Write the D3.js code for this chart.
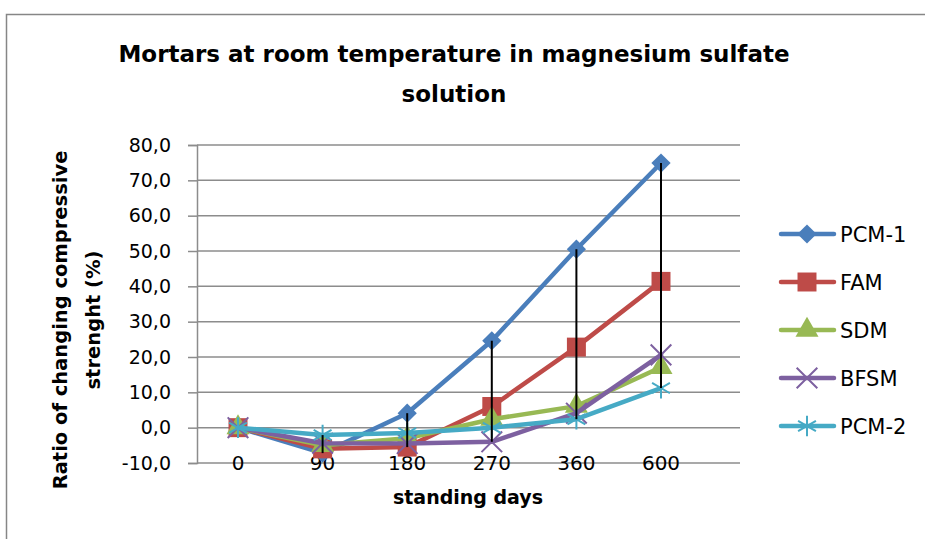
<!DOCTYPE html>
<html>
<head>
<meta charset="utf-8">
<script src="https://cdn.jsdelivr.net/npm/d3@7"></script>
<style>
  body { margin: 0; background: #fff; }
  text { font-family: 'DejaVu Sans', sans-serif; fill: #000; }
</style>
</head>
<body>
<div id="chart"></div>
<script>
// standing days (categories)
const days = ['0', '90', '180', '270', '360', '600']
const yTicks = [-10, 0, 10, 20, 30, 40, 50, 60, 70, 80]

// ratio of changing compressive strength (%)
const pcm1 = [0, -7.2, 4.1, 24.6, 50.5, 74.9]
const fam = [0, -6.0, -5.5, 6.0, 22.8, 41.4]
const sdm = [0, -5.0, -3.0, 2.4, 6.1, 17.1]
const bfsm = [0, -4.4, -4.5, -4.0, 4.1, 20.6]
const pcm2 = [0, -2.1, -1.5, 0.0, 2.4, 11.2]

const seriesNames = ['PCM-1', 'FAM', 'SDM', 'BFSM', 'PCM-2']
const seriesValues = [pcm1, fam, sdm, bfsm, pcm2]
const colors = ['#4a7ebb', '#be4b48', '#98b954', '#7d60a0', '#46aac5']
const markers = ['diamond', 'square', 'triangle', 'x', 'star']

const width = 925
const height = 539
const plot = { left: 197, right: 740, top: 145, bottom: 463 }

const svg = d3.select('#chart')
  .append('svg')
  .attr('width', width)
  .attr('height', height)

// chart frame
svg.append('rect')
  .attr('x', 6.5)
  .attr('y', 14.5)
  .attr('width', 1000)
  .attr('height', 1000)
  .attr('fill', 'none')
  .attr('stroke', '#868686')
  .attr('stroke-width', 1.5)

const x = d3.scalePoint()
  .domain(days)
  .range([238, 661])

const y = d3.scaleLinear()
  .domain([-10, 80])
  .range([plot.bottom, plot.top])

const locale = d3.formatLocale({ decimal: ',', thousands: '.', grouping: [3], currency: ['', ''], minus: '-' })
const fmt = locale.format('.1f')

// gridlines
svg.append('g')
  .selectAll('line')
  .data(yTicks)
  .enter()
  .append('line')
  .attr('x1', plot.left)
  .attr('x2', plot.right)
  .attr('y1', d => y(d))
  .attr('y2', d => y(d))
  .attr('stroke', '#8c8c8c')
  .attr('stroke-width', 1.5)

// y axis
const yAxis = d3.axisLeft(y)
  .tickValues(yTicks)
  .tickFormat(fmt)
  .tickSize(9)
  .tickPadding(17)

const yG = svg.append('g')
  .attr('transform', 'translate(' + plot.left + ',0)')
  .call(yAxis)
yG.select('.domain').attr('stroke', '#8c8c8c').attr('stroke-width', 1.5)
yG.selectAll('.tick line').attr('stroke', '#8c8c8c').attr('stroke-width', 1.5)
yG.selectAll('.tick text')
  .attr('font-size', 19)
  .attr('font-family', 'DejaVu Sans, sans-serif')
  .attr('fill', '#000')

// x labels (Excel puts them on the bottom gridline)
svg.append('g')
  .selectAll('text')
  .data(days)
  .enter()
  .append('text')
  .attr('x', d => x(d))
  .attr('y', plot.bottom + 7)
  .attr('text-anchor', 'middle')
  .attr('font-size', 20)
  .text(d => d)

// series lines and markers
const line = d3.line()
  .x((d, i) => x(days[i]))
  .y(d => y(d))

const symbolFor = {
  diamond: d3.symbol().type(d3.symbolSquare).size(185),
  square: d3.symbol().type(d3.symbolSquare).size(360),
  triangle: d3.symbol().type(d3.symbolTriangle).size(230),
  x: d3.symbol().type(d3.symbolTimes).size(280),
  star: d3.symbol().type(d3.symbolAsterisk).size(300)
}

function drawMarker(g, type, color) {
  const filled = type === 'diamond' || type === 'square' || type === 'triangle'
  g.append('path')
    .attr('d', symbolFor[type]())
    .attr('transform', type === 'diamond' ? 'rotate(45)' : null)
    .attr('fill', filled ? color : 'none')
    .attr('stroke', color)
    .attr('stroke-width', filled ? 0 : 2)
}

seriesValues.forEach((values, s) => {
  const g = svg.append('g')
  g.append('path')
    .datum(values)
    .attr('d', line)
    .attr('fill', 'none')
    .attr('stroke', colors[s])
    .attr('stroke-width', 4.5)
    .attr('stroke-linejoin', 'round')
    .attr('stroke-linecap', 'round')

  values.forEach((v, i) => {
    const m = g.append('g')
      .attr('transform', 'translate(' + x(days[i]) + ',' + y(v) + ')')
    drawMarker(m, markers[s], colors[s])
  })
})

// high-low lines
svg.append('g')
  .selectAll('line')
  .data(days)
  .enter()
  .append('line')
  .attr('x1', d => x(d))
  .attr('x2', d => x(d))
  .attr('y1', (d, i) => y(d3.max(seriesValues, s => s[i])))
  .attr('y2', (d, i) => y(d3.min(seriesValues, s => s[i])))
  .attr('stroke', '#000')
  .attr('stroke-width', 2)

// legend
const legend = svg.append('g')
seriesNames.forEach((name, s) => {
  const ly = 234 + s * 48
  legend.append('line')
    .attr('x1', 781)
    .attr('x2', 834)
    .attr('y1', ly)
    .attr('y2', ly)
    .attr('stroke', colors[s])
    .attr('stroke-width', 4.5)
    .attr('stroke-linecap', 'round')
  const m = legend.append('g')
    .attr('transform', 'translate(807,' + ly + ')')
  drawMarker(m, markers[s], colors[s])
  legend.append('text')
    .attr('x', 840)
    .attr('y', ly + 8)
    .attr('font-size', 21)
    .text(name)
})

// titles
const title = svg.append('text')
  .attr('text-anchor', 'middle')
  .attr('font-size', 23)
  .attr('font-weight', 'bold')
title.append('tspan').attr('x', 454).attr('y', 62).text('Mortars at room temperature in magnesium sulfate')
title.append('tspan').attr('x', 454).attr('y', 102).text('solution')

svg.append('text')
  .attr('x', 468)
  .attr('y', 504)
  .attr('text-anchor', 'middle')
  .attr('font-size', 19)
  .attr('font-weight', 'bold')
  .text('standing days')

const yTitle = svg.append('text')
  .attr('transform', 'rotate(-90)')
  .attr('text-anchor', 'middle')
  .attr('font-size', 19.5)
  .attr('font-weight', 'bold')
yTitle.append('tspan').attr('x', -320).attr('y', 67).text('Ratio of changing compressive')
yTitle.append('tspan').attr('x', -320).attr('y', 100).text('strenght (%)')
</script>
</body>
</html>
